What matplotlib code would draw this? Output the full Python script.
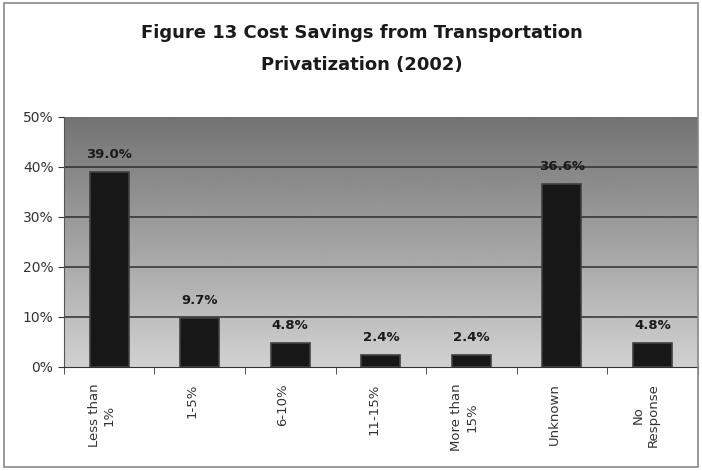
import numpy as np
import matplotlib.pyplot as plt
from matplotlib.ticker import FuncFormatter

categories = ["Less than\n1%", "1-5%", "6-10%", "11-15%", "More than\n15%", "Unknown", "No\nResponse"]
values = [39.0, 9.7, 4.8, 2.4, 2.4, 36.6, 4.8]
yticks = [0, 10, 20, 30, 40, 50]

plt.rcParams['font.family'] = ['DejaVu Sans']

fig = plt.figure(figsize=(7.02, 4.71), dpi=100)
ax = fig.add_axes([0.091, 0.221, 0.903, 0.531])

# figure border
fig.patches.append(plt.Rectangle((0.005, 0.008), 0.99, 0.985, transform=fig.transFigure,
                                 fill=False, edgecolor='#888888', linewidth=1.2))

x = np.arange(len(categories))

# gradient background
grad = np.linspace(0.45, 0.82, 256).reshape(-1, 1)
ax.imshow(grad, cmap='gray', vmin=0, vmax=1, aspect='auto',
          extent=[-0.5, len(categories) - 0.5, 0, 50], origin='upper', zorder=0)

for t in yticks[1:-1]:
    ax.axhline(t, color='#2e2e2e', linewidth=1.1, zorder=1)

bars = ax.bar(x, values, width=0.43, color='#171717', edgecolor='#404040',
              linewidth=1.2, zorder=3)
for xi, v in zip(x, values):
    ax.text(xi, v + 2.2, f"{v:.1f}%", ha='center', va='bottom', fontsize=9.5,
            fontweight='bold', color='#1a1a1a', zorder=4)

ax.set_xlim(-0.5, len(categories) - 0.5)
ax.set_ylim(0, 50)
ax.set_yticks(yticks)
ax.yaxis.set_major_formatter(FuncFormatter(lambda v, p: f"{int(v)}%"))
ax.tick_params(axis='y', labelsize=10, colors='#333333', length=4, direction='out')

ax.set_xticks(x - 0.08)
ax.set_xticklabels(categories, rotation=90, fontsize=9.5, color='#333333', va='top')
ax.tick_params(axis='x', length=0, pad=12)
ax.set_xticks(np.arange(-0.5, len(categories)), minor=True)
ax.tick_params(axis='x', which='minor', length=5, direction='out', color='#333333')

for s in ['top', 'right']:
    ax.spines[s].set_visible(False)
ax.spines['left'].set_color('#555555')
ax.spines['bottom'].set_color('#333333')

fig.text(0.515, 0.929, "Figure 13 Cost Savings from Transportation", ha='center',
         va='center', fontsize=13, fontweight='bold', color='#1a1a1a')
fig.text(0.515, 0.862, "Privatization (2002)", ha='center',
         va='center', fontsize=13, fontweight='bold', color='#1a1a1a')

fig.savefig("out.png", dpi=100)
